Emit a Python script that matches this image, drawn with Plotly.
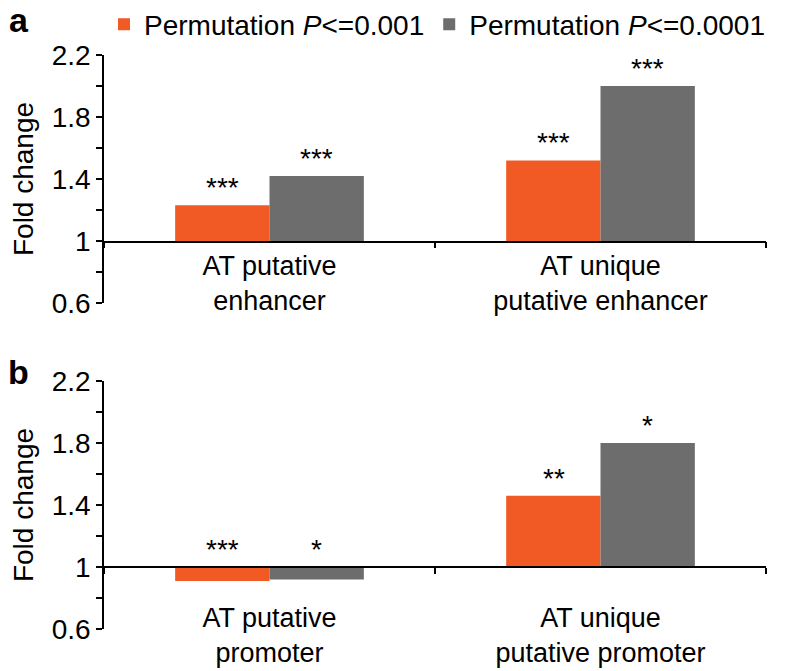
import plotly.graph_objects as go

# data
categories_a = ["AT putative<br>enhancer", "AT unique<br>putative enhancer"]
categories_b = ["AT putative<br>promoter", "AT unique<br>putative promoter"]
series_names = ["Permutation <i>P</i>&lt;=0.001", "Permutation <i>P</i>&lt;=0.0001"]
fold_a_001 = [1.23, 1.52]
fold_a_0001 = [1.42, 2.00]
fold_b_001 = [0.91, 1.46]
fold_b_0001 = [0.92, 1.80]
stars_a_001 = ["***", "***"]
stars_a_0001 = ["***", "***"]
stars_b_001 = ["***", "**"]
stars_b_0001 = ["*", "*"]

colors = ["#F15A24", "#6D6D6D"]
FONT = "Liberation Sans, Arial, Helvetica, sans-serif"
FS = 28
BASE = 1

# the page puts an 8px body margin around the plot, so the figure is sized to fit
W, H = 778, 663
L, R, T, B = 96, 20, 47, 42
pw, ph = W - L - R, H - T - B

fig = go.Figure()
panels = [
    ("x", "y", categories_a, [fold_a_001, fold_a_0001], [stars_a_001, stars_a_0001]),
    ("x2", "y2", categories_b, [fold_b_001, fold_b_0001], [stars_b_001, stars_b_0001]),
]
for p, (xa, ya, cats, series, stars) in enumerate(panels):
    for i, vals in enumerate(series):
        fig.add_trace(go.Bar(
            x=cats, y=[v - BASE for v in vals], base=BASE,
            name=series_names[i], marker_color=colors[i], marker_line_width=0,
            xaxis=xa, yaxis=ya, showlegend=(p == 0), legendgroup=str(i),
            hoverinfo="skip"))
        for c, v, s in zip(cats, vals, stars[i]):
            fig.add_annotation(
                x=c, y=max(v, BASE), xref=xa, yref=ya, text=s, showarrow=False,
                xshift=(-47 if i == 0 else 47), yanchor="bottom", yshift=0,
                font=dict(size=FS, color="black", family=FONT))

yax = dict(range=[0.6, 2.2], tickvals=[0.6, 1, 1.4, 1.8, 2.2],
           ticktext=["0.6", "1", "1.4", "1.8", "2.2"],
           ticks="outside", ticklen=6, tickwidth=1.5, tickcolor="black",
           minor=dict(tickvals=[0.8, 1.2, 1.6, 2.0], ticks="outside", ticklen=6,
                      tickwidth=1.5, tickcolor="black"),
           showline=True, linecolor="black", linewidth=1.5, showgrid=False,
           zeroline=False, tickfont=dict(size=FS, color="black"), automargin=False,
           title=dict(text="Fold change", font=dict(size=FS, color="black"), standoff=16))
xax = dict(showline=True, linecolor="black", linewidth=1.5, showgrid=False,
           ticks="outside", tickson="boundaries", ticklen=6, tickwidth=1.5,
           tickcolor="black", tickfont=dict(size=FS - 1, color="black"),
           anchor="free", automargin=False)

fig.update_layout(
    width=W, height=H,
    margin=dict(l=L, r=R, t=T, b=B, autoexpand=False),
    plot_bgcolor="white", paper_bgcolor="white",
    font=dict(family=FONT, color="black"),
    barmode="group", bargap=0.43, bargroupgap=0,
    yaxis=dict(yax, domain=[0.568, 1.0]),
    yaxis2=dict(yax, domain=[0.0, 0.432]),
    xaxis=dict(xax, position=0.6748),
    xaxis2=dict(xax, position=0.108, ticklabelstandoff=27),
    legend=dict(orientation="h", x=0.0, y=(H - B - 16.5) / ph,
                xanchor="left", yanchor="middle",
                font=dict(size=FS, color="black"), itemwidth=30,
                traceorder="normal", bgcolor="rgba(0,0,0,0)"),
)

# panel letters placed in paper coordinates (pixel-derived)
for letter, px, py in [("a", 11, 12), ("b", 11, 364)]:
    fig.add_annotation(text="<b>%s</b>" % letter, x=(px - L) / pw, y=(H - B - py) / ph,
                       xref="paper", yref="paper", showarrow=False,
                       xanchor="center", yanchor="middle",
                       font=dict(size=34, color="black", family=FONT))

fig.write_html("out.html")
